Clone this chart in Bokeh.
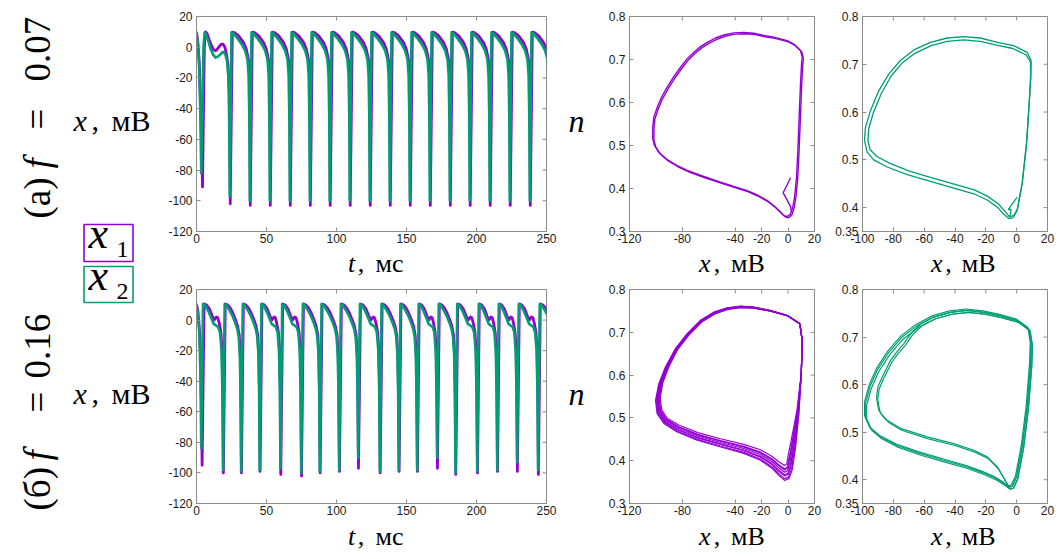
import math
from bokeh.plotting import figure
from bokeh.layouts import row, column
from bokeh.models import Range1d, FixedTicker
from bokeh.core.properties import value
from bokeh.embed import file_html
from bokeh.resources import INLINE

PURPLE = "#9400D3"
GREEN = "#009E73"
FRAME = "#8c8c8c"
TICKC = "#1a1a1a"
SERIF = "Liberation Serif"
SANS = "Liberation Sans"

# ---------------- time series data ----------------
TS_XTICKS = [0, 50, 100, 150, 200, 250]
TS_YTICKS = [-120, -100, -80, -60, -40, -20, 0, 20]

# panel (a), f = 0.07 : start segment before the first regular spike
A_X1_START_T = [0, 1, 2, 3, 4.3, 5, 5.6, 6.4, 7.5, 9, 10.5, 12, 13.6, 15.5, 17.5, 19, 20.3, 21.5, 22.6, 23.5]
A_X1_START_V = [10, 3, -10, -40, -91, -40, 0, 10, 9, 5, 1.5, -1.5, -2.4, -0.5, 1.8, 2, 0, -5, -12, -30]
A_X2_START_T = [0, 1, 2, 2.8, 3.4, 4.2, 5, 5.8, 7, 8.5, 10, 12, 13.6, 15.5, 17.2, 19, 20.5, 21.8, 22.8, 23.3]
A_X2_START_V = [10, 2, -15, -45, -82, -40, 0, 9.5, 8, 4, -1, -5, -6.8, -6, -4.5, -3, -4.5, -9, -20, -45]
# spike minima
A_X1_MIN_T = [24.1, 38.4, 52.7, 67.0, 81.3, 95.5, 109.8, 124.1, 138.4, 152.7, 167.0, 181.3, 195.5, 209.8, 224.1, 238.4]
A_X1_MIN_V = [-102, -103, -103, -103, -103, -103, -103, -103, -103, -103, -103, -103, -103, -103, -103, -103]
A_X2_MIN_T = [23.8, 38.1, 52.4, 66.7, 81.0, 95.2, 109.5, 123.8, 138.1, 152.4, 166.7, 181.0, 195.2, 209.5, 223.8, 238.1]
A_X2_MIN_V = [-97, -100, -100, -100, -100, -100, -100, -100, -100, -100, -100, -100, -100, -100, -100, -100]
# cycle shape after a minimum (ms after minimum, mV), cycle length 14.29 ms
A_X1_CYC_DT = [1.5, 3, 6, 9.5, 11.5, 13, 13.8, 14.1]
A_X1_CYC_V = [9.8, 9.5, 7.4, 3, -1.3, -8, -20, -45]
A_X2_CYC_DT = [1.2, 2.5, 5, 8.5, 11, 12.6, 13.4, 13.9]
A_X2_CYC_V = [9.5, 9, 6.3, 2, -2.4, -8, -18, -45]
A_CYC_LEN = 14.29

# panel (b), f = 0.16
B_X1_START_T = [0, 1, 2, 3, 3.6]
B_X1_START_V = [10.5, 6, -5, -25, -60]
B_X2_START_T = [0, 1, 2, 2.8]
B_X2_START_V = [10.5, 4, -8, -35]
B_X1_MIN_T = [4.0, 19.2, 32.1, 45.4, 60.2, 75.0, 88.3, 102.1, 115.7, 131.2, 144.7, 157.8, 172.1, 185.2, 200.7, 215.0, 229.2, 244.2]
B_X1_MIN_V = [-95, -100, -100, -99, -101, -102, -100, -99, -97, -100, -99, -99, -97, -101, -100, -99, -99, -101]
B_X2_MIN_T = [3.4, 19.0, 31.9, 45.2, 60.0, 74.8, 88.1, 101.9, 115.5, 131.0, 144.5, 157.6, 171.9, 185.0, 200.5, 214.8, 229.0, 244.0]
B_X2_MIN_V = [-84, -98, -99, -98, -97, -100, -99, -98, -90, -99, -98, -98, -90, -100, -99, -98, -93, -98]
B_CYCLE_TYPE = ["L", "S", "S", "L", "L", "S", "S", "S", "L", "S", "S", "L", "S", "L", "L", "L", "L", "S"]
B_X1_S_DT = [1.4, 3, 5, 7, 9, 10.5, 11.7, 12.5, 12.9]
B_X1_S_V = [10.5, 10, 8, 4.5, 0, -4, -10, -25, -50]
B_X2_S_DT = [1.2, 3, 5, 7, 9, 10.5, 11.5, 12.3, 12.8]
B_X2_S_V = [10.5, 9, 6, 2.5, -2, -6, -11, -22, -45]
B_X1_L_DT = [1.4, 3, 5, 7, 8.5, 10, 11, 12, 13.2, 14, 14.5]
B_X1_L_V = [10.5, 10, 7.5, 3, 0, 2, 1.5, -2, -8, -20, -45]
B_X2_L_DT = [1.2, 3, 5, 7, 8.5, 10, 11.5, 12.8, 13.8, 14.4]
B_X2_L_V = [10.5, 9, 5.5, 1, -2.5, -3.5, -4.5, -8, -20, -45]
B_S_LEN = 13.3
B_L_LEN = 14.9

# ---------------- phase portraits (x, n) ----------------
PH1_XTICKS = [-120, -80, -40, -20, 0, 20]
PH1_YTICKS = [0.3, 0.4, 0.5, 0.6, 0.7, 0.8]
PH2_XTICKS = [-100, -80, -60, -40, -20, 0, 20]
PH2_YTICKS = [0.35, 0.4, 0.5, 0.6, 0.7, 0.8]

PA_X = [10.7, 9.4, 4.3, -0.6, -10.8, -18.3, -25.9, -33.5, -41.1, -48.6, -54.9, -61.2, -66.3, -71.3, -76.3,
        -81.4, -86.5, -91.5, -96.0, -99.0, -101.6, -102.4, -102.4, -101.1, -97.8, -91.5, -83.9, -76.3, -63.8,
        -51.1, -41.1, -30.9, -23.4, -15.8, -10.8, -7.0, -3.2, -0.6, 1.9, 3.6, 4.9, 6.4, 7.4, 8.4, 9.4, 10.2, 10.7]
PA_N = [0.705, 0.721, 0.736, 0.744, 0.752, 0.756, 0.761, 0.763, 0.762, 0.757, 0.750, 0.740, 0.730, 0.717, 0.702,
        0.682, 0.660, 0.636, 0.611, 0.589, 0.566, 0.543, 0.516, 0.500, 0.484, 0.467, 0.453, 0.442, 0.428,
        0.415, 0.405, 0.395, 0.385, 0.372, 0.360, 0.349, 0.337, 0.335, 0.341, 0.357, 0.380, 0.426, 0.488, 0.566, 0.643, 0.690, 0.705]
PA_OFFSETS = [(0.0, 0.0), (0.9, -0.003)]
PA_TR_X = [1.9, -3.7, -1.2, 1.9, 2.5]
PA_TR_N = [0.425, 0.390, 0.376, 0.358, 0.345]

GA_OUT_X = [9.4, 6.8, -1.9, -12.6, -23.5, -34.3, -45.1, -55.9, -66.7, -75.4, -82.9, -89.4, -94.8, -98.1, -98.7, -97.0,
            -92.7, -84.0, -71.0, -55.9, -40.8, -27.8, -19.1, -12.6, -8.3, -5.1, -2.3, 0.3, 3.6, 6.4, 8.1, 9.2, 9.4]
GA_OUT_N = [0.708, 0.725, 0.739, 0.746, 0.755, 0.758, 0.755, 0.746, 0.730, 0.708, 0.680, 0.645, 0.603, 0.568, 0.540, 0.516,
            0.500, 0.485, 0.469, 0.455, 0.441, 0.429, 0.416, 0.401, 0.386, 0.377, 0.379, 0.394, 0.450, 0.534, 0.617, 0.673, 0.708]
GA_IN_X = [9.0, 6.0, -2.5, -13.0, -23.5, -34.3, -45.1, -55.5, -66.0, -74.5, -81.5, -87.5, -92.8, -95.9, -96.5, -95.0,
           -90.7, -82.5, -70.0, -55.5, -40.5, -27.5, -19.0, -12.0, -7.5, -4.8, -2.0, 0.5, 3.6, 6.4, 8.1, 9.0, 9.0]
GA_IN_N = [0.705, 0.720, 0.733, 0.740, 0.748, 0.751, 0.748, 0.739, 0.723, 0.702, 0.675, 0.641, 0.600, 0.566, 0.540, 0.521,
           0.507, 0.493, 0.477, 0.463, 0.449, 0.437, 0.424, 0.408, 0.392, 0.381, 0.383, 0.397, 0.452, 0.534, 0.617, 0.673, 0.705]
GA_TR_X = [0.3, -5.5, -3.6, -4.5]
GA_TR_N = [0.422, 0.396, 0.396, 0.380]

PB_X = [8.9, -0.6, -13.3, -25.9, -36.0, -46.1, -56.2, -66.3, -76.3, -85.2, -92.8, -97.8, -100.3, -99.1, -94.0,
        -83.9, -68.8, -51.1, -33.5, -20.9, -12.0, -7.0, -2.7, 0.6, 3.1, 5.7, 8.2, 10.0, 10.7, 8.9]
PB_N = [0.720, 0.739, 0.751, 0.759, 0.761, 0.757, 0.747, 0.728, 0.697, 0.662, 0.619, 0.580, 0.541, 0.510, 0.487,
        0.467, 0.448, 0.432, 0.417, 0.401, 0.382, 0.366, 0.354, 0.358, 0.378, 0.432, 0.510, 0.603, 0.681, 0.720]
PB_WX = [0, 0, 0, 0, 0, 0.1, 0.15, 0.2, 0.25, 0.35, 0.5, 0.6, 0.7, 0.7, 0.5,
         0.3, 0.1, 0, 0, 0, 0, 0, 0, -0.3, -0.6, -0.6, -0.3, 0, 0, 0]
PB_WN = [0, 0, -0.05, -0.08, -0.1, -0.1, -0.12, -0.12, -0.1, -0.05, 0, 0.05, 0.15, 0.25, 0.35,
         0.45, 0.5, 0.55, 0.6, 0.7, 0.8, 0.9, 1, 1, 1, 0.6, 0.2, 0, 0, 0]
PB_DX = 5.0
PB_DN = 0.035
PB_LEVELS = [0.0, 0.12, 0.3, 0.38, 0.55, 0.7, 0.78, 1.0]

GB_OUT_X = [7.9, 0.3, -10.5, -21.3, -32.1, -42.9, -53.8, -64.5, -74.3, -82.9, -90.5, -95.2, -98.1, -98.1, -94.8,
            -88.3, -77.5, -62.4, -47.3, -32.1, -21.3, -13.7, -8.3, -5.1, -2.9, -0.1, 3.6, 6.8, 9.0, 9.4, 7.9]
GB_OUT_N = [0.717, 0.735, 0.745, 0.752, 0.756, 0.752, 0.742, 0.724, 0.700, 0.668, 0.630, 0.595, 0.560, 0.532, 0.508,
            0.490, 0.472, 0.455, 0.441, 0.427, 0.414, 0.403, 0.392, 0.384, 0.386, 0.406, 0.469, 0.553, 0.644, 0.686, 0.717]
GB_IN_X = [7.9, 0.3, -10.5, -21.3, -32.1, -42.9, -53.8, -62.0, -68.0, -73.2, -78.0, -81.8, -87.2, -90.0, -90.9, -90.2,
           -89.4, -87.0, -84.0, -75.4, -58.0, -40.8, -27.8, -19.1, -12.6, -8.3, -5.1, -2.9, -0.1, 3.6, 6.8, 9.0, 9.4, 7.9]
GB_IN_N = [0.717, 0.735, 0.745, 0.752, 0.756, 0.752, 0.742, 0.728, 0.710, 0.686, 0.668, 0.651, 0.616, 0.595, 0.574, 0.558,
           0.546, 0.535, 0.525, 0.508, 0.490, 0.476, 0.462, 0.448, 0.427, 0.403, 0.385, 0.386, 0.406, 0.469, 0.553, 0.644, 0.686, 0.717]
GB_OFFSETS = [(0.0, 0.0), (0.8, -0.004), (-0.6, 0.003)]


def build_series(start_t, start_v, min_t, min_v, templates, types, tail_type):
    t = list(start_t)
    v = list(start_v)
    for k in range(len(min_t)):
        t.append(min_t[k])
        v.append(min_v[k])
        if k < len(min_t) - 1:
            dts, vals, length = templates[types[k]]
            s = (min_t[k + 1] - min_t[k]) / length
        else:
            dts, vals, length = templates[tail_type]
            s = 1.0
        for d, val in zip(dts, vals):
            t.append(min_t[k] + d * s)
            v.append(val)
    return t, v


# ---------------- layout geometry (page pixels) ----------------
class Geo:
    def __init__(self, page_left, page_top, width, height, fl, ft, fw, fh, xr, yr):
        self.page_left, self.page_top = page_left, page_top
        self.width, self.height = width, height
        self.fl, self.ft, self.fw, self.fh = fl, ft, fw, fh
        self.xr, self.yr = xr, yr

    def dx(self, px):
        return self.xr[0] + (px - self.page_left - self.fl) / self.fw * (self.xr[1] - self.xr[0])

    def dy(self, py):
        return self.yr[1] - (py - self.page_top - self.ft) / self.fh * (self.yr[1] - self.yr[0])


def make_fig(g, xticks, yticks, xlabels, ylabels):
    p = figure(width=g.width, height=g.height, x_range=Range1d(*g.xr), y_range=Range1d(*g.yr),
               output_backend="svg", toolbar_location=None,
               min_border_left=g.fl, min_border_top=g.ft,
               min_border_right=g.width - g.fl - g.fw, min_border_bottom=g.height - g.ft - g.fh)
    p.grid.visible = False
    p.outline_line_color = FRAME
    for ax in (p.xaxis[0], p.yaxis[0]):
        ax.axis_line_color = FRAME
        ax.major_tick_line_color = FRAME
        ax.major_tick_in = 4
        ax.major_tick_out = 0
        ax.minor_tick_line_color = None
        ax.major_label_text_font = SANS
        ax.major_label_text_font_size = "12px"
        ax.major_label_text_color = TICKC
    p.xaxis.ticker = FixedTicker(ticks=xticks)
    p.yaxis.ticker = FixedTicker(ticks=yticks)
    p.xaxis.major_label_overrides = dict(zip(xticks, xlabels))
    p.yaxis.major_label_overrides = dict(zip(yticks, ylabels))
    p.xaxis.major_label_standoff = 2
    p.yaxis.major_label_standoff = 4
    # ticks on top and right edges of the box
    tx = 4 * (g.xr[1] - g.xr[0]) / g.fw
    ty = 4 * (g.yr[1] - g.yr[0]) / g.fh
    p.segment(x0=xticks, y0=[g.yr[1]] * len(xticks), x1=xticks, y1=[g.yr[1] - ty] * len(xticks),
              line_color=FRAME, line_width=1)
    p.segment(x0=[g.xr[1]] * len(yticks), y0=yticks, x1=[g.xr[1] - tx] * len(yticks), y1=yticks,
              line_color=FRAME, line_width=1)
    return p


def make_strip(page_left, page_top, w, h):
    g = Geo(page_left, page_top, w, h, 0, 0, w, h, (0, w), (0, h))
    p = figure(width=w, height=h, x_range=Range1d(0, w), y_range=Range1d(0, h),
               output_backend="svg", toolbar_location=None, x_axis_type=None, y_axis_type=None,
               min_border=0)
    p.grid.visible = False
    p.outline_line_color = None
    return p, g


def put(p, g, px, py, text, size, style="normal", rotated=False):
    # (px, py): page position of the start of the text on its baseline
    shift = 0.34 * size
    if rotated:
        ax_, ay_, angle = px - shift, py, math.pi / 2
    else:
        ax_, ay_, angle = px, py - shift, 0.0
    p.text(x=[g.dx(ax_)], y=[g.dy(ay_)], text=[text], angle=angle,
           text_font=value(SERIF), text_font_size=value(f"{size}px"), text_font_style=style,
           text_align="left", text_baseline="middle", text_color="black")


def unit_label(p, g, px, py, var, unit, comma_dx, unit_dx, size=26):
    put(p, g, px, py, var, size, "italic")
    put(p, g, px + comma_dx, py, ",", size)
    put(p, g, px + unit_dx, py, unit, size)


# row boundaries (page pixels)
TOP_FIG_H = 247      # top panels: frame 16..231, tick labels below
TOP_STRIP_H = 34     # 247..281, axis titles of the top row
BOT_FIG_H = 238      # 281..519: frame 289..503
BOT_STRIP_H = 40     # 519..559

# ---------------- left column: titles and legend ----------------
pL, gL = make_strip(0, 0, 165, 559)
for (py, txt, st) in [(218, "(а)", "normal"), (168, "f", "italic"), (129, "=", "normal"), (81, "0.07", "normal"),
                      (510, "(б)", "normal"), (460, "f", "italic"), (412, "=", "normal"), (378, "0.16", "normal")]:
    put(pL, gL, 50, py, txt, 37, st, rotated=True)
unit_label(pL, gL, 73, 130, "x", "мВ", 18, 38, 30)
unit_label(pL, gL, 73, 403, "x", "мВ", 18, 38, 30)
# legend boxes
pL.quad(left=[gL.dx(83.5)], right=[gL.dx(132.5)], top=[gL.dy(224)], bottom=[gL.dy(261)],
        fill_color=None, line_color=PURPLE, line_width=1.6)
pL.quad(left=[gL.dx(83.5)], right=[gL.dx(132.5)], top=[gL.dy(266)], bottom=[gL.dy(302)],
        fill_color=None, line_color=GREEN, line_width=1.6)
put(pL, gL, 88, 248, "x", 44, "italic")
put(pL, gL, 116, 257, "1", 24)
put(pL, gL, 88, 290, "x", 44, "italic")
put(pL, gL, 116, 299, "2", 24)

# ---------------- time series ----------------
ts_xlab = [str(v) for v in TS_XTICKS]
ts_ylab = [str(v) for v in TS_YTICKS]

gA = Geo(165, 0, 395, TOP_FIG_H, 31, 16, 350, 215, (0, 250), (-120, 20))
pA = make_fig(gA, TS_XTICKS, TS_YTICKS, ts_xlab, ts_ylab)
a1t, a1v = build_series(A_X1_START_T, A_X1_START_V, A_X1_MIN_T, A_X1_MIN_V,
                        {"C": (A_X1_CYC_DT, A_X1_CYC_V, A_CYC_LEN)}, ["C"] * len(A_X1_MIN_T), "C")
a2t, a2v = build_series(A_X2_START_T, A_X2_START_V, A_X2_MIN_T, A_X2_MIN_V,
                        {"C": (A_X2_CYC_DT, A_X2_CYC_V, A_CYC_LEN)}, ["C"] * len(A_X2_MIN_T), "C")
pA.line(a1t, a1v, line_color=PURPLE, line_width=2.8, line_join="round")
pA.line(a2t, a2v, line_color=GREEN, line_width=2.6, line_join="round")
sA, gsA = make_strip(165, TOP_FIG_H, 395, TOP_STRIP_H)
unit_label(sA, gsA, 336, 272, "t", "мс", 11, 31)

B_TOP = TOP_FIG_H + TOP_STRIP_H
gB = Geo(165, B_TOP, 395, BOT_FIG_H, 31, 289 - B_TOP, 350, 214, (0, 250), (-120, 20))
pB = make_fig(gB, TS_XTICKS, TS_YTICKS, ts_xlab, ts_ylab)
b1t, b1v = build_series(B_X1_START_T, B_X1_START_V, B_X1_MIN_T, B_X1_MIN_V,
                        {"S": (B_X1_S_DT, B_X1_S_V, B_S_LEN), "L": (B_X1_L_DT, B_X1_L_V, B_L_LEN)},
                        B_CYCLE_TYPE, B_CYCLE_TYPE[-1])
b2t, b2v = build_series(B_X2_START_T, B_X2_START_V, B_X2_MIN_T, B_X2_MIN_V,
                        {"S": (B_X2_S_DT, B_X2_S_V, B_S_LEN), "L": (B_X2_L_DT, B_X2_L_V, B_L_LEN)},
                        B_CYCLE_TYPE, B_CYCLE_TYPE[-1])
pB.line(b1t, b1v, line_color=PURPLE, line_width=2.8, line_join="round")
pB.line(b2t, b2v, line_color=GREEN, line_width=2.6, line_join="round")
S_TOP = B_TOP + BOT_FIG_H
sB, gsB = make_strip(165, S_TOP, 395, BOT_STRIP_H)
unit_label(sB, gsB, 336, 545, "t", "мс", 11, 31)

# ---------------- "n" strip ----------------
pN, gN = make_strip(560, 0, 40, 559)
put(pN, gN, 568, 131, "n", 32, "italic")
put(pN, gN, 568, 404, "n", 32, "italic")

# ---------------- phase portraits ----------------
ph1_xl = [str(v) for v in PH1_XTICKS]
ph1_yl = [str(v) for v in PH1_YTICKS]
ph2_xl = [str(v) for v in PH2_XTICKS]
ph2_yl = [str(v) for v in PH2_YTICKS]

g1a = Geo(600, 0, 224, TOP_FIG_H, 29, 16, 185, 215, (-120, 20), (0.3, 0.8))
p1a = make_fig(g1a, PH1_XTICKS, PH1_YTICKS, ph1_xl, ph1_yl)
for dx, dn in PA_OFFSETS:
    p1a.line([x + dx for x in PA_X], [n + dn for n in PA_N], line_color=PURPLE, line_width=1.4)
p1a.line(PA_TR_X, PA_TR_N, line_color=PURPLE, line_width=1.4)
s1a, gs1a = make_strip(600, TOP_FIG_H, 224, TOP_STRIP_H)
unit_label(s1a, gs1a, 684, 272, "x", "мВ", 18, 39)

g1b = Geo(600, B_TOP, 224, BOT_FIG_H, 29, 289 - B_TOP, 185, 214, (-120, 20), (0.3, 0.8))
p1b = make_fig(g1b, PH1_XTICKS, PH1_YTICKS, ph1_xl, ph1_yl)
for k in PB_LEVELS:
    xs = [x + k * PB_DX * w for x, w in zip(PB_X, PB_WX)]
    ns = [n + k * PB_DN * w for n, w in zip(PB_N, PB_WN)]
    p1b.line(xs, ns, line_color=PURPLE, line_width=1.2)
s1b, gs1b = make_strip(600, S_TOP, 224, BOT_STRIP_H)
unit_label(s1b, gs1b, 684, 545, "x", "мВ", 18, 39)

g2a = Geo(824, 0, 235, TOP_FIG_H, 38, 16, 185, 215, (-100, 20), (0.35, 0.8))
p2a = make_fig(g2a, PH2_XTICKS, PH2_YTICKS, ph2_xl, ph2_yl)
p2a.line(GA_OUT_X, GA_OUT_N, line_color=GREEN, line_width=1.3)
p2a.line(GA_IN_X, GA_IN_N, line_color=GREEN, line_width=1.3)
p2a.line(GA_TR_X, GA_TR_N, line_color=GREEN, line_width=1.3)
s2a, gs2a = make_strip(824, TOP_FIG_H, 235, TOP_STRIP_H)
unit_label(s2a, gs2a, 911, 272, "x", "мВ", 18, 39)

g2b = Geo(824, B_TOP, 235, BOT_FIG_H, 38, 289 - B_TOP, 185, 214, (-100, 20), (0.35, 0.8))
p2b = make_fig(g2b, PH2_XTICKS, PH2_YTICKS, ph2_xl, ph2_yl)
for dx, dn in GB_OFFSETS:
    p2b.line([x + dx for x in GB_OUT_X], [n + dn for n in GB_OUT_N], line_color=GREEN, line_width=1.2)
for dx, dn in GB_OFFSETS[:2]:
    p2b.line([x + dx for x in GB_IN_X], [n + dn for n in GB_IN_N], line_color=GREEN, line_width=1.2)
s2b, gs2b = make_strip(824, S_TOP, 235, BOT_STRIP_H)
unit_label(s2b, gs2b, 911, 545, "x", "мВ", 18, 39)

layout = row(pL,
             column(pA, sA, pB, sB, spacing=0),
             pN,
             column(p1a, s1a, p1b, s1b, spacing=0),
             column(p2a, s2a, p2b, s2b, spacing=0),
             spacing=0)
open("out.html", "w").write(file_html(layout, INLINE))
